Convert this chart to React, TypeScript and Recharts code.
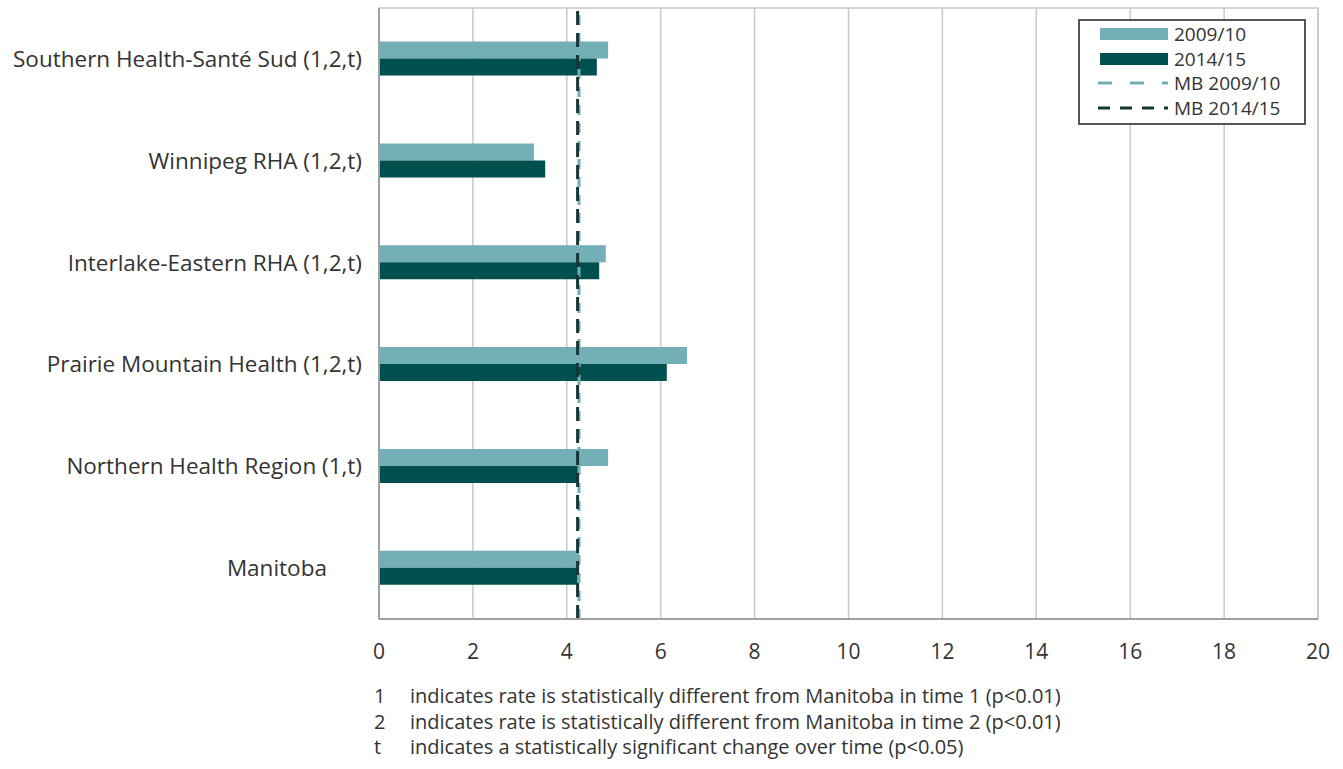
import {
  BarChart,
  Bar,
  XAxis,
  YAxis,
  CartesianGrid,
  ReferenceLine,
  ReferenceArea,
} from 'recharts'

const regions = [
  'Southern Health-Santé Sud (1,2,t)',
  'Winnipeg RHA (1,2,t)',
  'Interlake-Eastern RHA (1,2,t)',
  'Prairie Mountain Health (1,2,t)',
  'Northern Health Region (1,t)',
  'Manitoba\u00a0\u00a0\u00a0\u00a0\u00a0\u00a0',
]
const rate2009 = [4.88, 3.3, 4.83, 6.56, 4.88, 4.26]
const rate2014 = [4.64, 3.54, 4.69, 6.13, 4.26, 4.23]
const mb2009 = 4.26
const mb2014 = 4.23
const xTicks = [0, 2, 4, 6, 8, 10, 12, 14, 16, 18, 20]
const footnotes = [
  ['1', 'indicates rate is statistically different from Manitoba in time 1 (p<0.01)'],
  ['2', 'indicates rate is statistically different from Manitoba in time 2 (p<0.01)'],
  ['t', 'indicates a statistically significant change over time (p<0.05)'],
]

const LIGHT = '#72afb6'
const DARK = '#00504f'
const LINE_DARK = '#173535'
const FONT = '"Open Sans", "Noto Sans", sans-serif'

const chartData = regions.map((name, i) => ({
  name,
  y2009: rate2009[i],
  y2014: rate2014[i],
}))

function LegendBox() {
  const rows: { label: string; kind: 'bar' | 'dash'; color: string }[] = [
    { label: '2009/10', kind: 'bar', color: LIGHT },
    { label: '2014/15', kind: 'bar', color: DARK },
    { label: 'MB 2009/10', kind: 'dash', color: LIGHT },
    { label: 'MB 2014/15', kind: 'dash', color: LINE_DARK },
  ]
  return (
    <div
      style={{
        position: 'absolute',
        left: 1078,
        top: 19,
        border: '2px solid #555',
        background: '#fff',
        width: 228,
        height: 106,
        boxSizing: 'border-box',
        padding: '1px 0 0 18px',
        fontFamily: FONT,
        fontSize: 19,
        color: '#333',
      }}
    >
      {rows.map((r) => (
        <div key={r.label} style={{ display: 'flex', alignItems: 'center', height: 24.6 }}>
          <svg width={76} height={14} style={{ flex: 'none' }}>
            {r.kind === 'bar' ? (
              <rect x={2} y={1} width={68} height={12} fill={r.color} />
            ) : (
              <line
                x1={0}
                x2={70}
                y1={7}
                y2={7}
                stroke={r.color}
                strokeWidth={3}
                strokeDasharray={r.color === LIGHT ? '14 18' : '12 10'}
              />
            )}
          </svg>
          <span>{r.label}</span>
        </div>
      ))}
    </div>
  )
}

export default function App() {
  return (
    <div
      style={{
        position: 'absolute',
        left: 0,
        top: 0,
        width: 1343,
        height: 769,
        background: '#fff',
        fontFamily: FONT,
      }}
    >
      <BarChart
        layout="vertical"
        width={1343}
        height={769}
        data={chartData}
        margin={{ top: 8, right: 25, left: 0, bottom: 120 }}
        barCategoryGap="33%"
        barGap={0}
      >
        <CartesianGrid horizontal={false} stroke="#c8c8c8" strokeWidth={1.5} />
        <ReferenceArea x1={0} x2={20} fill="none" stroke="#c8c8c8" strokeWidth={1.5} />
        <XAxis
          type="number"
          domain={[0, 20]}
          ticks={xTicks}
          height={30}
          tickLine={false}
          tickSize={0}
          tickMargin={25}
          axisLine={{ stroke: '#a0a0a0', strokeWidth: 2 }}
          tick={{ fontSize: 21, fill: '#333', fontFamily: FONT }}
        />
        <YAxis
          type="category"
          dataKey="name"
          width={379}
          tickLine={false}
          tickSize={0}
          tickMargin={17}
          axisLine={{ stroke: '#a0a0a0', strokeWidth: 2 }}
          tick={{ fontSize: 22.5, fill: '#333', fontFamily: FONT }}
        />
        <Bar dataKey="y2009" name="2009/10" fill={LIGHT} isAnimationActive={false} />
        <Bar dataKey="y2014" name="2014/15" fill={DARK} isAnimationActive={false} />
        <ReferenceLine x={mb2009} stroke={LIGHT} strokeWidth={3} strokeDasharray="10 8" />
        <ReferenceLine x={mb2014} stroke={LINE_DARK} strokeWidth={3} strokeDasharray="14 8" />
      </BarChart>
      <LegendBox />
      {footnotes.map(([k, text], i) => (
        <div
          key={k}
          style={{
            position: 'absolute',
            left: 374,
            top: 682 + i * 25.5,
            fontSize: 20,
            lineHeight: '27px',
            color: '#333',
            display: 'flex',
            whiteSpace: 'nowrap',
          }}
        >
          <span style={{ width: 36 }}>{k}</span>
          <span>{text}</span>
        </div>
      ))}
    </div>
  )
}
